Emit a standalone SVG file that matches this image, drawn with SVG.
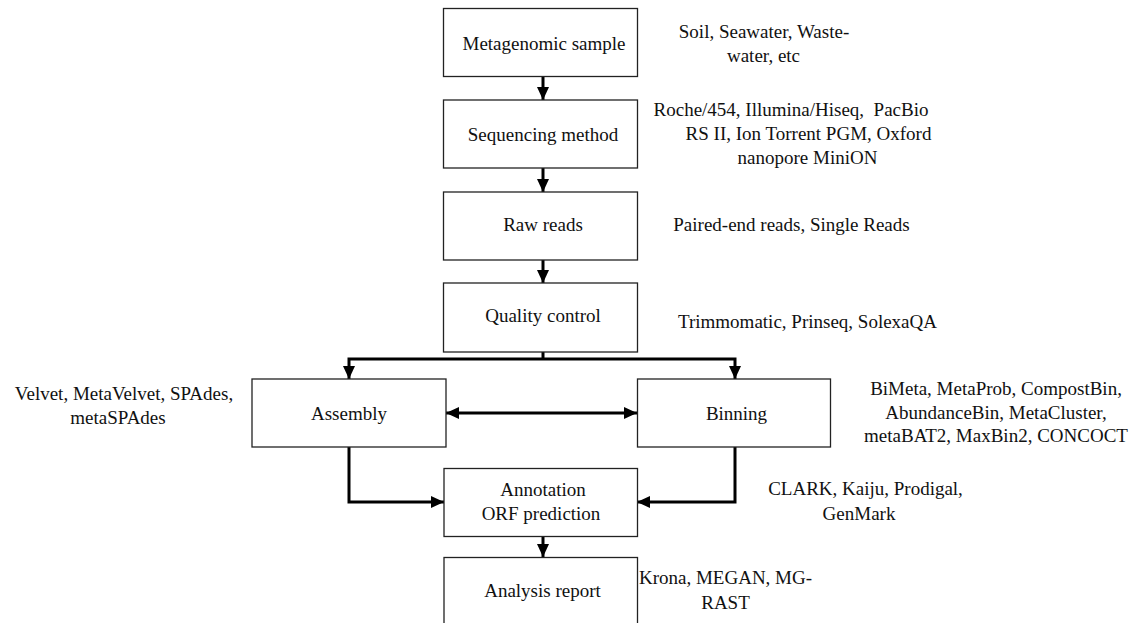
<svg xmlns="http://www.w3.org/2000/svg" width="1138" height="623" viewBox="0 0 1138 623">
<style>
.box{fill:#fff;stroke:#222;stroke-width:1.3}
text{font-family:"Liberation Serif","Times New Roman",serif;font-size:19px;fill:#111;text-anchor:middle}
.c{fill:none;stroke:#000;stroke-width:3}
</style>
<defs>
<marker id="ah" markerUnits="userSpaceOnUse" markerWidth="13" markerHeight="12" refX="13" refY="6" orient="auto-start-reverse" viewBox="0 0 13 12">
<path d="M0,0 L13,6 L0,12 z" fill="#000"/>
</marker>
</defs>
<rect width="1138" height="623" fill="#fff"/>
<g id="connectors">
<line class="c" x1="543" y1="77" x2="543" y2="100" marker-end="url(#ah)"/>
<line class="c" x1="543" y1="168" x2="543" y2="192" marker-end="url(#ah)"/>
<line class="c" x1="543" y1="260" x2="543" y2="283" marker-end="url(#ah)"/>
<line class="c" x1="543" y1="352" x2="543" y2="359"/>
<polyline class="c" points="543,359 349,359 349,379" marker-end="url(#ah)"/>
<polyline class="c" points="543,359 735,359 735,379" marker-end="url(#ah)"/>
<line class="c" x1="446" y1="413" x2="637" y2="413" marker-start="url(#ah)" marker-end="url(#ah)"/>
<polyline class="c" points="349,447 349,502 444,502" marker-end="url(#ah)"/>
<polyline class="c" points="735,447 735,502 637,502" marker-end="url(#ah)"/>
<line class="c" x1="543" y1="537" x2="543" y2="557" marker-end="url(#ah)"/>
</g>
<g id="n1"><rect class="box" x="443.5" y="8.5" width="194" height="68"/><text x="544" y="50">Metagenomic sample</text></g>
<g id="n1note"><text x="764" y="37.5">Soil, Seawater, Waste-</text><text x="763.5" y="61.5">water, etc</text></g>
<g id="n2"><rect class="box" x="443.5" y="100" width="194" height="68"/><text x="543" y="140.5">Sequencing method</text></g>
<g id="n2note"><text x="791" y="116" style="white-space:pre">Roche/454, Illumina/Hiseq,  PacBio</text><text x="808.5" y="140">RS II, Ion Torrent PGM, Oxford</text><text x="807.5" y="163.5">nanopore MiniON</text></g>
<g id="n3"><rect class="box" x="443.5" y="192" width="194" height="68"/><text x="543" y="231">Raw reads</text></g>
<g id="n3note"><text x="791.5" y="231">Paired-end reads, Single Reads</text></g>
<g id="n4"><rect class="box" x="443.5" y="283" width="194" height="69"/><text x="543" y="322">Quality control</text></g>
<g id="n4note"><text x="807.5" y="328">Trimmomatic, Prinseq, SolexaQA</text></g>
<g id="n5"><rect class="box" x="252" y="379" width="194" height="68"/><text x="349" y="419.5">Assembly</text></g>
<g id="n5note"><text x="124" y="400">Velvet, MetaVelvet, SPAdes,</text><text x="118" y="423.5">metaSPAdes</text></g>
<g id="n6"><rect class="box" x="637.5" y="379" width="193" height="68"/><text x="736.5" y="420">Binning</text></g>
<g id="n6note"><text x="996" y="395">BiMeta, MetaProb, CompostBin,</text><text x="996" y="419">AbundanceBin, MetaCluster,</text><text x="996" y="442">metaBAT2, MaxBin2, CONCOCT</text></g>
<g id="n7"><rect class="box" x="444" y="468.5" width="193.5" height="68"/><text x="543" y="496">Annotation</text><text x="541" y="519.5">ORF prediction</text></g>
<g id="n7note"><text x="865.5" y="495">CLARK, Kaiju, Prodigal,</text><text x="859" y="519.5">GenMark</text></g>
<g id="n8"><rect class="box" x="444" y="557.5" width="193.5" height="68"/><text x="542.5" y="597">Analysis report</text></g>
<g id="n8note"><text x="725.5" y="584">Krona, MEGAN, MG-</text><text x="725.5" y="608.5">RAST</text></g>
</svg>
